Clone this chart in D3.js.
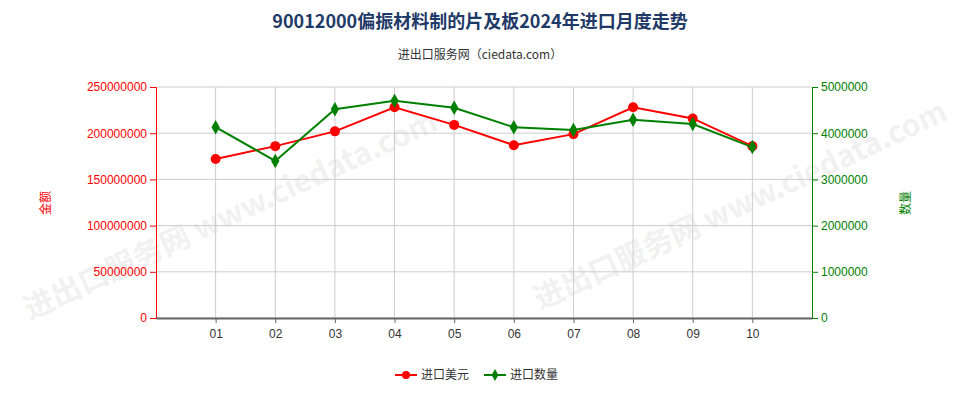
<!DOCTYPE html>
<html><head><meta charset="utf-8">
<script src="https://cdn.jsdelivr.net/npm/d3@7"></script>
<style>body{margin:0;background:#fff;font-family:"Noto Sans CJK SC","Noto Sans",sans-serif}</style>
</head><body><svg id="c" width="960" height="400"></svg>
<script>
const months = ["01","02","03","04","05","06","07","08","09","10"];
const amount = [172000000,186000000,202000000,228000000,209000000,187000000,199000000,228000000,216000000,186000000];
const qty = [4130000,3400000,4520000,4700000,4550000,4130000,4070000,4290000,4200000,3700000];
const leftTicks = [0,50000000,100000000,150000000,200000000,250000000];
const rightTicks = [0,1000000,2000000,3000000,4000000,5000000];

const svg = d3.select("#c");
const L=156,R=812,T=87,B=318;
const x = d3.scaleLinear().domain([0,11]).range([L,R]);
const yl = d3.scaleLinear().domain([0,250000000]).range([B,T]);
const yr = d3.scaleLinear().domain([0,5000000]).range([B,T]);

svg.append("text").attr("x",480).attr("y",28).attr("text-anchor","middle").attr("font-size",18).attr("font-weight","bold").attr("fill","#1f3a68").text("90012000偏振材料制的片及板2024年进口月度走势");
svg.append("text").attr("x",480).attr("y",59).attr("text-anchor","middle").attr("font-size",12).attr("fill","#333").text("进出口服务网（ciedata.com）");

// watermark
svg.append("text").attr("x",30).attr("y",320).attr("transform","rotate(-25 30 320)").attr("font-size",30).attr("font-weight","bold").attr("fill","#000").attr("opacity",0.05).text("进出口服务网 www.ciedata.com");
svg.append("text").attr("x",540).attr("y",310).attr("transform","rotate(-25 540 310)").attr("font-size",30).attr("font-weight","bold").attr("fill","#000").attr("opacity",0.05).text("进出口服务网 www.ciedata.com");

const g = svg.append("g");
leftTicks.forEach(t=>g.append("line").attr("x1",L).attr("x2",R).attr("y1",yl(t)).attr("y2",yl(t)).attr("stroke","#ccc"));
months.forEach((m,i)=>g.append("line").attr("x1",x(i+1)).attr("x2",x(i+1)).attr("y1",T).attr("y2",B).attr("stroke","#ccc"));

const la = svg.append("g").attr("transform",`translate(${L},0)`).call(d3.axisLeft(yl).tickValues(leftTicks).tickFormat(d3.format("d")).tickSize(6));
la.selectAll("path,line").attr("stroke","red");
la.selectAll("text").attr("fill","red").attr("font-size",12);
const ra = svg.append("g").attr("transform",`translate(${R},0)`).call(d3.axisRight(yr).tickValues(rightTicks).tickFormat(d3.format("d")).tickSize(6));
ra.selectAll("path,line").attr("stroke","green");
ra.selectAll("text").attr("fill","green").attr("font-size",12);
const ba = svg.append("g").attr("transform",`translate(0,${B})`).call(d3.axisBottom(x).tickValues(d3.range(1,11)).tickFormat(i=>months[i-1]).tickSize(5).tickSizeOuter(0));
ba.selectAll("path").attr("stroke","#666").attr("stroke-width",2);
ba.selectAll("line").attr("stroke","#666");
ba.selectAll("text").attr("fill","#333").attr("font-size",12).attr("dy","1em");

svg.append("text").attr("transform","translate(50,203) rotate(-90)").attr("text-anchor","middle").attr("fill","red").attr("font-size",12).text("金额");
svg.append("text").attr("transform","translate(910,203) rotate(-90)").attr("text-anchor","middle").attr("fill","green").attr("font-size",12).text("数量");

const lineL = d3.line().x((d,i)=>x(i+1)).y(d=>yl(d));
const lineR = d3.line().x((d,i)=>x(i+1)).y(d=>yr(d));
svg.append("path").attr("d",lineL(amount)).attr("fill","none").attr("stroke","red").attr("stroke-width",2);
svg.selectAll(".pa").data(amount).enter().append("circle").attr("cx",(d,i)=>x(i+1)).attr("cy",d=>yl(d)).attr("r",5).attr("fill","red");
svg.append("path").attr("d",lineR(qty)).attr("fill","none").attr("stroke","green").attr("stroke-width",2);
svg.selectAll(".pq").data(qty).enter().append("path").attr("d",d3.symbol(d3.symbolDiamond,60)).attr("transform",(d,i)=>`translate(${x(i+1)},${yr(d)})`).attr("fill","green");

const lg = svg.append("g");
lg.append("line").attr("x1",395).attr("x2",417).attr("y1",375).attr("y2",375).attr("stroke","red").attr("stroke-width",2);
lg.append("circle").attr("cx",406).attr("cy",375).attr("r",4).attr("fill","red");
lg.append("text").attr("x",421).attr("y",379).attr("font-size",12).attr("fill","#333").text("进口美元");
lg.append("line").attr("x1",484).attr("x2",506).attr("y1",375).attr("y2",375).attr("stroke","green").attr("stroke-width",2);
lg.append("path").attr("d",d3.symbol(d3.symbolDiamond,40)).attr("transform","translate(495,375)").attr("fill","green");
lg.append("text").attr("x",510).attr("y",379).attr("font-size",12).attr("fill","#333").text("进口数量");
</script></body></html>
